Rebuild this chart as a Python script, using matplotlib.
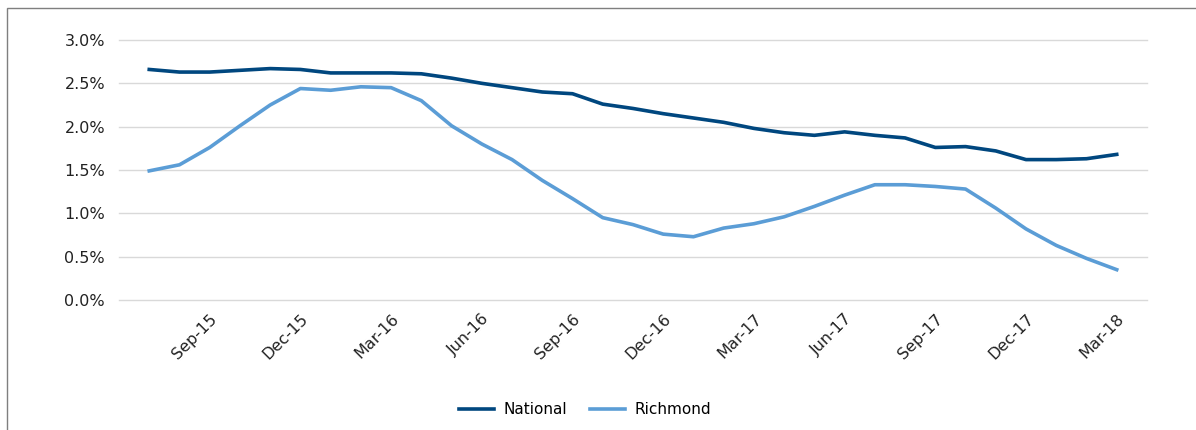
import matplotlib.pyplot as plt
from matplotlib.patches import Rectangle
from matplotlib.ticker import PercentFormatter
import numpy as np

plt.rcParams['font.family'] = ['DejaVu Sans']

# monthly, Jul-15 .. Mar-18
months = ['Jul-15', 'Aug-15', 'Sep-15', 'Oct-15', 'Nov-15', 'Dec-15',
          'Jan-16', 'Feb-16', 'Mar-16', 'Apr-16', 'May-16', 'Jun-16',
          'Jul-16', 'Aug-16', 'Sep-16', 'Oct-16', 'Nov-16', 'Dec-16',
          'Jan-17', 'Feb-17', 'Mar-17', 'Apr-17', 'May-17', 'Jun-17',
          'Jul-17', 'Aug-17', 'Sep-17', 'Oct-17', 'Nov-17', 'Dec-17',
          'Jan-18', 'Feb-18', 'Mar-18']

national = [2.66, 2.63, 2.63, 2.65, 2.67, 2.66, 2.62, 2.62, 2.62, 2.61,
            2.56, 2.50, 2.45, 2.40, 2.38, 2.26, 2.21, 2.15, 2.10, 2.05,
            1.98, 1.93, 1.90, 1.94, 1.90, 1.87, 1.76, 1.77, 1.72, 1.62,
            1.62, 1.63, 1.68]

richmond = [1.49, 1.56, 1.76, 2.01, 2.25, 2.44, 2.42, 2.46, 2.45, 2.30,
            2.01, 1.80, 1.62, 1.38, 1.17, 0.95, 0.87, 0.76, 0.73, 0.83,
            0.88, 0.96, 1.08, 1.21, 1.33, 1.33, 1.31, 1.28, 1.06, 0.82,
            0.63, 0.48, 0.35]

x = np.arange(len(months))
shown = [i for i, m in enumerate(months) if m[:3] in ('Mar', 'Jun', 'Sep', 'Dec')]

fig = plt.figure(figsize=(11.96, 4.30), dpi=100)
ax = fig.add_axes([0.0995, 0.3023, 0.8595, 0.6047])

ax.plot(x, np.array(national) / 100, color='#00477f', lw=2.6,
        solid_joinstyle='round', label='National')
ax.plot(x, np.array(richmond) / 100, color='#5b9dd6', lw=2.6,
        solid_joinstyle='round', label='Richmond')

ax.set_xlim(-1, len(months))
ax.set_ylim(0, 0.03)
ax.set_yticks(np.arange(0, 0.0301, 0.005))
ax.yaxis.set_major_formatter(PercentFormatter(1.0, decimals=1))
ax.grid(axis='y', color='#d9d9d9', lw=1)
for gl in ax.get_ygridlines():
    gl.set_clip_on(False)
ax.set_axisbelow(True)
for s in ax.spines.values():
    s.set_visible(False)

ax.set_xticks(shown)
ax.set_xticklabels([months[i] for i in shown], rotation=45, ha='right',
                   va='top', rotation_mode='anchor')
ax.tick_params(length=0, labelsize=11.5, labelcolor='#222222')
ax.tick_params(axis='y', pad=10)
ax.tick_params(axis='x', pad=8)

fig.legend(loc='center', bbox_to_anchor=(0.489, 0.047), ncol=2, frameon=False,
           fontsize=11, handlelength=2.3, columnspacing=1.5, handletextpad=0.6)

# chart area border
fig.patches.append(Rectangle((7 / 1196, -0.1), 1.2, 0.1 + 422 / 430,
                             transform=fig.transFigure, fill=False,
                             edgecolor='#7f7f7f', lw=1))

fig.savefig('out.png', dpi=100)
